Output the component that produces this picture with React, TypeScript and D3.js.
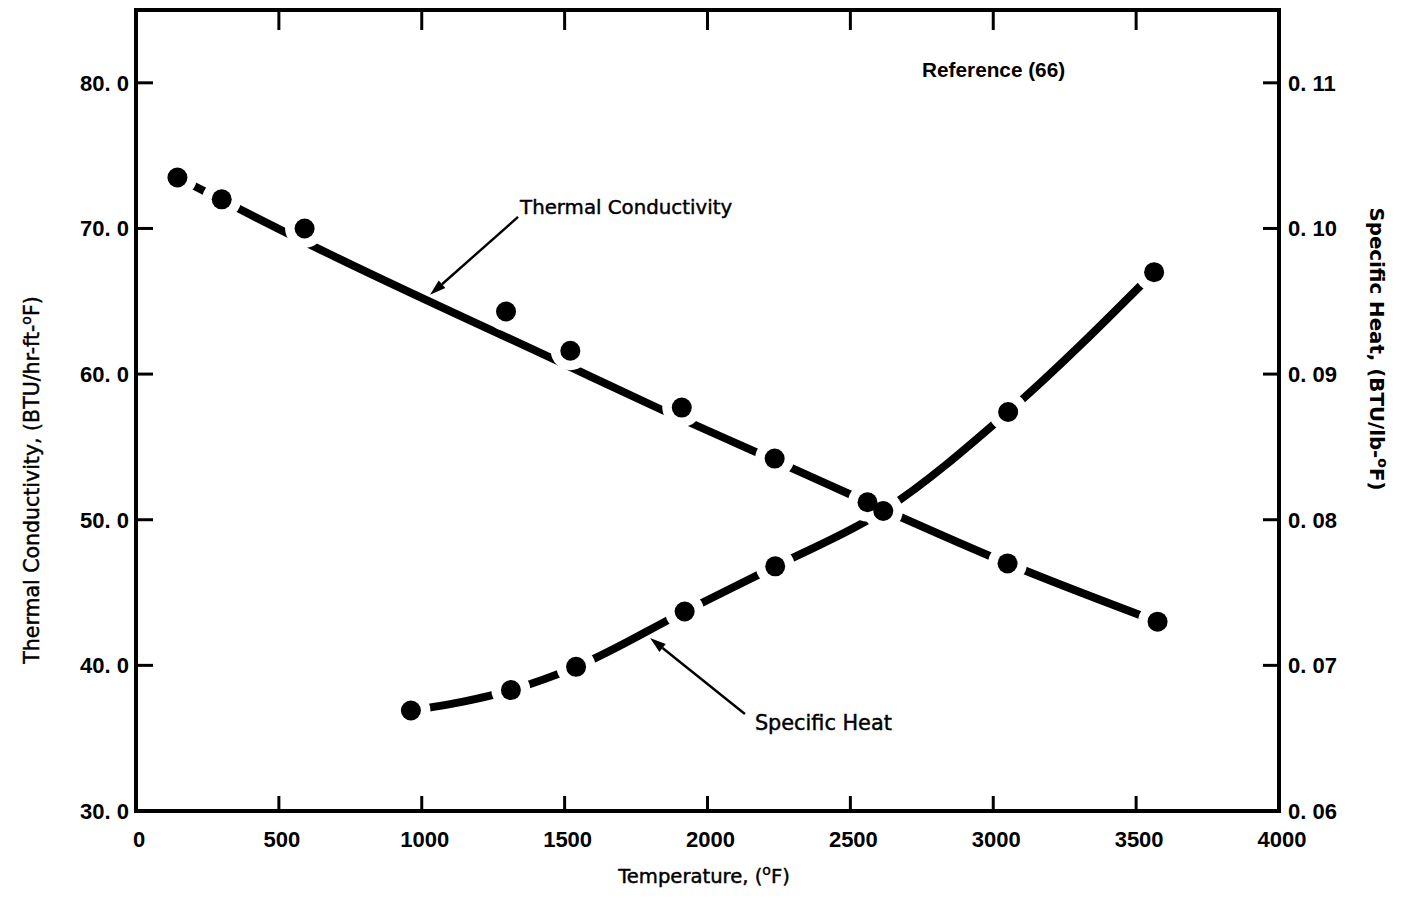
import React from 'react';
import * as d3 from 'd3';

// ---- axis ticks ----
const xTicks = [0, 500, 1000, 1500, 2000, 2500, 3000, 3500, 4000];
const xTickLabels = ['0', '500', '1000', '1500', '2000', '2500', '3000', '3500', '4000'];
const leftTicks = [30, 40, 50, 60, 70, 80];
const leftTickLabels = ['30. 0', '40. 0', '50. 0', '60. 0', '70. 0', '80. 0'];
const rightTicks = [0.06, 0.07, 0.08, 0.09, 0.1, 0.11];
const rightTickLabels = ['0. 06', '0. 07', '0. 08', '0. 09', '0. 10', '0. 11'];

// ---- thermal conductivity (left axis) ----
const tcTemp = [145, 300, 590, 1295, 1520, 1910, 2235, 2560, 3050, 3575];
const tcValue = [73.5, 72.0, 70.0, 64.3, 61.6, 57.7, 54.2, 51.2, 47.0, 43.0];
// faired curve through the data
const tcFitTemp = [145, 650, 1475, 1845, 2295, 2560, 3050, 3575];
const tcFitValue = [73.5, 68.5, 60.9, 57.5, 53.55, 51.2, 47.0, 43.0];

// ---- specific heat (right axis) ----
const shTemp = [962, 1312, 1540, 1920, 2237, 2615, 3052, 3563];
const shValue = [0.0669, 0.0683, 0.0699, 0.0737, 0.0768, 0.0806, 0.0874, 0.097];

// ---- annotations (data coordinates) ----
const refNote = { text: 'Reference (66)', t: 2751, v: 80.4 };
const tcNote = { text: 'Thermal Conductivity', t: 1344, v: 71.0, tailT: 1337, tailV: 70.79, tipT: 1029, tipV: 65.44 };
const shNote = { text: 'Specific Heat', t: 2166, v: 0.06556, tailT: 2131, tailV: 0.06666, tipT: 1799, tipV: 0.07188 };

const W = 1409;
const H = 905;
const LEFT = 136;
const RIGHT = 1279;
const TOP = 10;
const BOTTOM = 811;

const x = d3.scaleLinear().domain([0, 4000]).range([LEFT, RIGHT]);
const yL = d3.scaleLinear().domain([30, 85]).range([BOTTOM, TOP]);
const yR = d3.scaleLinear().domain([0.06, 0.115]).range([BOTTOM, TOP]);

const tickFont = '"Liberation Sans", Arial, sans-serif';
const titleFont = '"DejaVu Sans", sans-serif';

function Arrow({ x1, y1, x2, y2 }: { x1: number; y1: number; x2: number; y2: number }) {
  const ang = Math.atan2(y2 - y1, x2 - x1);
  const L = 16;
  const Wd = 5;
  const bx = x2 - L * Math.cos(ang);
  const by = y2 - L * Math.sin(ang);
  const px = -Math.sin(ang) * Wd;
  const py = Math.cos(ang) * Wd;
  return (
    <g>
      <line x1={x1} y1={y1} x2={bx} y2={by} stroke="#000" strokeWidth={2.4} />
      <path d={`M${x2},${y2}L${bx + px},${by + py}L${bx - px},${by - py}Z`} fill="#000" />
    </g>
  );
}

export default function App() {
  const tcFit = tcFitTemp.map((t, i) => [t, tcFitValue[i]] as [number, number]);
  const sh = shTemp.map((t, i) => [t, shValue[i]] as [number, number]);
  const tcPts = tcTemp.map((t, i) => [t, tcValue[i]] as [number, number]);

  const tcLine = d3
    .line<[number, number]>()
    .x((d) => x(d[0]))
    .y((d) => yL(d[1]))
    .curve(d3.curveMonotoneX);
  const shLine = d3
    .line<[number, number]>()
    .x((d) => x(d[0]))
    .y((d) => yR(d[1]))
    .curve(d3.curveMonotoneX);

  const allPts = [
    ...tcPts.map((d) => ({ cx: x(d[0]), cy: yL(d[1]) })),
    ...sh.map((d) => ({ cx: x(d[0]), cy: yR(d[1]) })),
  ];

  const textStroke = { stroke: '#000', strokeWidth: 0.45 };

  return (
    <svg
      width={W}
      height={H}
      style={{ position: 'absolute', left: 0, top: 0, background: '#fff' }}
    >
      <rect x={0} y={0} width={W} height={H} fill="#fff" />

      {/* curves */}
      <path d={tcLine(tcFit) || ''} fill="none" stroke="#000" strokeWidth={8} strokeLinecap="round" />
      <path d={shLine(sh) || ''} fill="none" stroke="#000" strokeWidth={8} strokeLinecap="round" />

      {/* white gaps around data points */}
      {allPts.map((p, i) => (
        <circle key={'h' + i} cx={p.cx} cy={p.cy} r={19.5} fill="#fff" />
      ))}
      {allPts.map((p, i) => (
        <circle key={'m' + i} cx={p.cx} cy={p.cy} r={10} fill="#000" />
      ))}

      {/* frame */}
      <rect x={LEFT} y={TOP} width={RIGHT - LEFT} height={BOTTOM - TOP} fill="none" stroke="#000" strokeWidth={4} />

      {/* bottom & top ticks */}
      {xTicks.map((t, i) => (
        <g key={'xt' + i}>
          {t > 0 && t < 4000 && (
            <>
              <line x1={x(t)} x2={x(t)} y1={BOTTOM} y2={BOTTOM - 15} stroke="#000" strokeWidth={3} />
              <line x1={x(t)} x2={x(t)} y1={TOP} y2={TOP + 20} stroke="#000" strokeWidth={3} />
            </>
          )}
          <text
            x={x(t) + 3}
            y={847}
            textAnchor="middle"
            fontFamily={tickFont}
            fontWeight="bold"
            fontSize={22}
          >
            {xTickLabels[i]}
          </text>
        </g>
      ))}

      {/* left ticks */}
      {leftTicks.map((t, i) => (
        <g key={'lt' + i}>
          {t > 30 && <line x1={LEFT} x2={LEFT + 17} y1={yL(t)} y2={yL(t)} stroke="#000" strokeWidth={3} />}
          <text
            x={129}
            y={yL(t)}
            dy="0.36em"
            textAnchor="end"
            fontFamily={tickFont}
            fontWeight="bold"
            fontSize={22}
          >
            {leftTickLabels[i]}
          </text>
        </g>
      ))}

      {/* right ticks */}
      {rightTicks.map((t, i) => (
        <g key={'rt' + i}>
          {t > 0.061 && <line x1={RIGHT} x2={RIGHT - 16} y1={yR(t)} y2={yR(t)} stroke="#000" strokeWidth={3} />}
          <text
            x={1288}
            y={yR(t)}
            dy="0.36em"
            textAnchor="start"
            fontFamily={tickFont}
            fontWeight="bold"
            fontSize={22}
          >
            {rightTickLabels[i]}
          </text>
        </g>
      ))}

      {/* axis titles */}
      <text x={704} y={883} textAnchor="middle" fontFamily={titleFont} fontSize={19.6} {...textStroke}>
        Temperature, (
        <tspan dy={-8} fontSize={14}>o</tspan>
        <tspan dy={8}>F)</tspan>
      </text>

      <text
        transform="translate(39,480) rotate(-90)"
        textAnchor="middle"
        fontFamily={titleFont}
        fontSize={20.5}
        {...textStroke}
      >
        Thermal Conductivity, (BTU/hr-ft-
        <tspan dy={-8} fontSize={14}>o</tspan>
        <tspan dy={8}>F)</tspan>
      </text>

      <text
        transform="translate(1370,349) rotate(90)"
        textAnchor="middle"
        fontFamily={titleFont}
        fontWeight="bold"
        fontSize={19.8}
      >
        Specific Heat, (BTU/lb-
        <tspan dy={-8} fontSize={14}>o</tspan>
        <tspan dy={8}>F)</tspan>
      </text>

      {/* annotations */}
      <text x={x(refNote.t)} y={yL(refNote.v)} fontFamily={tickFont} fontWeight="bold" fontSize={20.75}>
        {refNote.text}
      </text>

      <text x={x(tcNote.t)} y={yL(tcNote.v)} fontFamily={titleFont} fontSize={19.8} {...textStroke}>
        {tcNote.text}
      </text>
      <Arrow x1={x(tcNote.tailT)} y1={yL(tcNote.tailV)} x2={x(tcNote.tipT)} y2={yL(tcNote.tipV)} />

      <text x={x(shNote.t)} y={yR(shNote.v)} fontFamily={titleFont} fontSize={20.8} {...textStroke}>
        {shNote.text}
      </text>
      <Arrow x1={x(shNote.tailT)} y1={yR(shNote.tailV)} x2={x(shNote.tipT)} y2={yR(shNote.tipV)} />
    </svg>
  );
}
